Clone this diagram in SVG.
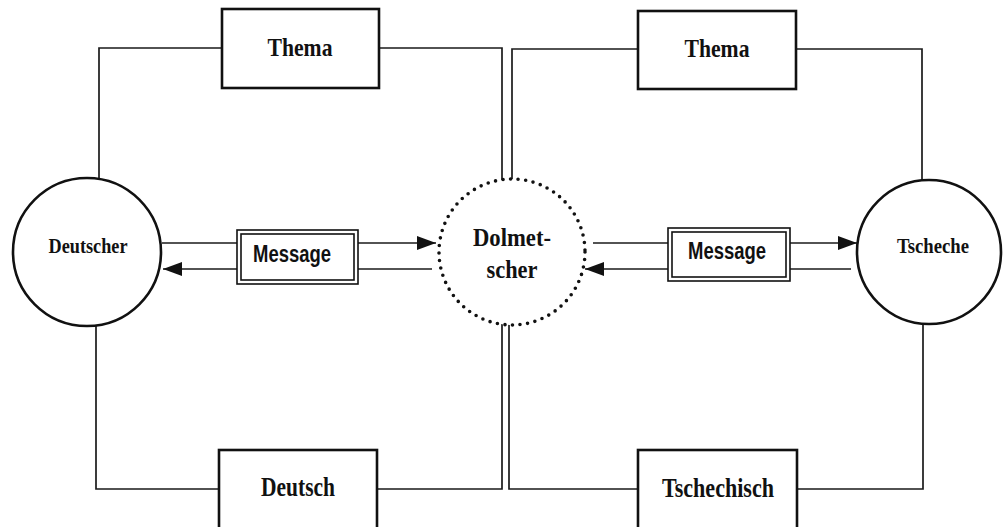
<svg xmlns="http://www.w3.org/2000/svg" width="1003" height="527" viewBox="0 0 1003 527">
<defs>
<style>
.bg{fill:#ffffff}
.ln{fill:none;stroke:#1a1a1a;stroke-width:1.7}
.box{fill:#ffffff;stroke:#111;stroke-width:2.6}
.msg{fill:#ffffff;stroke:#111;stroke-width:1.6}
.circ{fill:#ffffff;stroke:#111;stroke-width:2.6}
.dots{fill:#ffffff;stroke:#111;stroke-width:3.6;stroke-linecap:round;stroke-dasharray:0 7.6}
.serif{font-family:"Liberation Serif","Times New Roman",serif;font-weight:bold;fill:#111;text-anchor:middle}
.sans{font-family:"Liberation Sans",Arial,sans-serif;font-weight:bold;fill:#111;text-anchor:middle}
</style>
<marker id="arr" markerUnits="userSpaceOnUse" markerWidth="20" markerHeight="14" refX="19" refY="7" orient="auto">
<path d="M0,0 L19,7 L0,14 Z" fill="#111"/>
</marker>
</defs>
<rect class="bg" x="0" y="0" width="1003" height="527"/>
<g id="connectors">
<path class="ln" d="M99,180 V48 H222"/>
<path class="ln" d="M379,48 H502 V180"/>
<path class="ln" d="M512,180 V49 H638"/>
<path class="ln" d="M796,49 H922 V181"/>
<path class="ln" d="M96,325 V489 H219"/>
<path class="ln" d="M377,489 H502 V324"/>
<path class="ln" d="M509,324 V489 H638"/>
<path class="ln" d="M797,489 H923 V323"/>
<path class="ln" d="M162,243 H237"/>
<path class="ln" d="M358,243 H436" marker-end="url(#arr)"/>
<path class="ln" d="M432,269 H358"/>
<path class="ln" d="M237,269 H163" marker-end="url(#arr)"/>
<path class="ln" d="M593,243 H668"/>
<path class="ln" d="M790,243 H857" marker-end="url(#arr)"/>
<path class="ln" d="M851,269 H790"/>
<path class="ln" d="M668,269 H585" marker-end="url(#arr)"/>
</g>
<g id="thema-left">
<rect class="box" x="222" y="9" width="157" height="79"/>
<text class="serif" x="300" y="56" font-size="26" textLength="65" lengthAdjust="spacingAndGlyphs">Thema</text>
</g>
<g id="thema-right">
<rect class="box" x="638" y="11" width="158" height="78"/>
<text class="serif" x="717" y="57" font-size="26" textLength="65" lengthAdjust="spacingAndGlyphs">Thema</text>
</g>
<g id="deutsch">
<rect class="box" x="219" y="450" width="158" height="80"/>
<text class="serif" x="298" y="496" font-size="27" textLength="74" lengthAdjust="spacingAndGlyphs">Deutsch</text>
</g>
<g id="tschechisch">
<rect class="box" x="638" y="450" width="159" height="80"/>
<text class="serif" x="718" y="497" font-size="27" textLength="112" lengthAdjust="spacingAndGlyphs">Tschechisch</text>
</g>
<g id="deutscher">
<circle class="circ" cx="87" cy="252" r="74"/>
<text class="serif" x="88" y="253" font-size="21" textLength="79" lengthAdjust="spacingAndGlyphs">Deutscher</text>
</g>
<g id="tscheche">
<circle class="circ" cx="929" cy="252" r="72"/>
<text class="serif" x="933" y="253" font-size="21" textLength="72" lengthAdjust="spacingAndGlyphs">Tscheche</text>
</g>
<g id="dolmetscher">
<circle class="dots" cx="512" cy="252" r="73"/>
<text class="serif" x="512" y="246" font-size="25" textLength="78" lengthAdjust="spacingAndGlyphs">Dolmet-</text>
<text class="serif" x="512" y="278" font-size="25" textLength="51" lengthAdjust="spacingAndGlyphs">scher</text>
</g>
<g id="message-left">
<rect class="msg" x="237" y="230" width="121" height="54"/>
<rect class="msg" x="241" y="234" width="113" height="46"/>
<text class="sans" x="292" y="262" font-size="23" textLength="78" lengthAdjust="spacingAndGlyphs">Message</text>
</g>
<g id="message-right">
<rect class="msg" x="668" y="228" width="122" height="53"/>
<rect class="msg" x="672" y="232" width="114" height="45"/>
<text class="sans" x="727" y="259" font-size="23" textLength="78" lengthAdjust="spacingAndGlyphs">Message</text>
</g>
</svg>
